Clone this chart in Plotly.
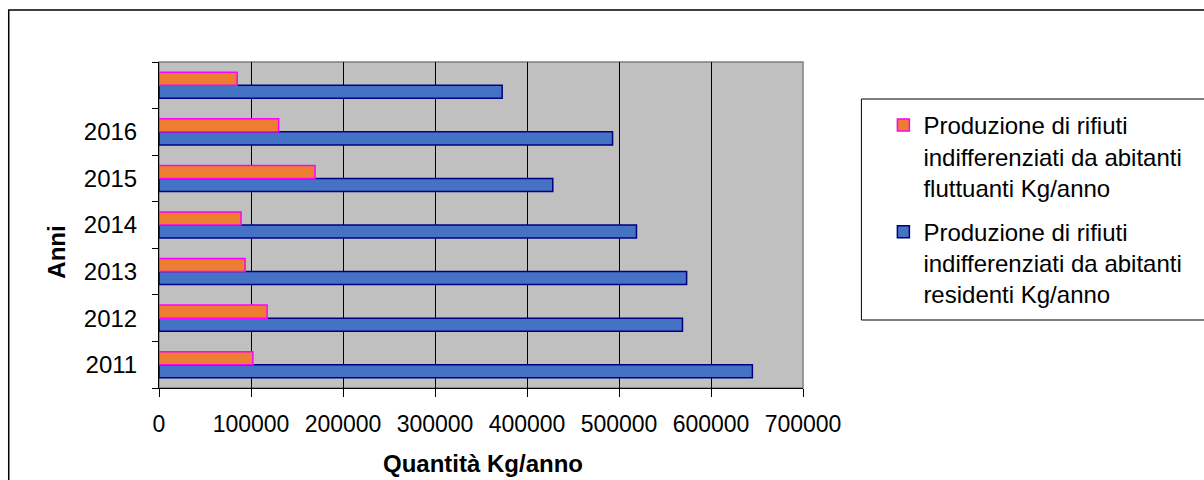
import plotly.graph_objects as go

# Years on the category axis (the last row has no printed label)
anni = ["2011", "2012", "2013", "2014", "2015", "2016", " "]

# Kg/anno of unsorted waste
residenti = [645000, 569000, 573500, 519000, 428000, 493000, 373000]
fluttuanti = [102000, 117500, 93600, 89200, 169600, 130100, 85000]

nome_residenti = "Produzione di rifiuti<br>indifferenziati da abitanti<br>residenti Kg/anno"
nome_fluttuanti = "Produzione di rifiuti<br>indifferenziati da abitanti<br>fluttuanti Kg/anno"

x_ticks = [0, 100000, 200000, 300000, 400000, 500000, 600000, 700000]

FONT = "Liberation Sans, Arial, sans-serif"

fig = go.Figure()
fig.add_trace(go.Bar(
    y=anni, x=residenti, orientation="h", name=nome_residenti,
    marker=dict(color="#4472C4", line=dict(color="#000080", width=1.5)),
    legendgroup="r", legendrank=2,
))
fig.add_trace(go.Bar(
    y=anni, x=fluttuanti, orientation="h", name=nome_fluttuanti,
    marker=dict(color="#ED7D31", line=dict(color="#FF00FF", width=1.5)),
    legendgroup="f", legendrank=1,
))

L, R, T, B = 158.5, 400.5, 62, 92
W, H = 1204, 480
pw, ph = W - L - R, H - T - B

def px(x):
    return (x - L) / pw

def py(y):
    return (H - B - y) / ph

fig.update_layout(
    width=W, height=H,
    margin=dict(l=L, r=R, t=T, b=B, pad=0),
    paper_bgcolor="white",
    plot_bgcolor="#C0C0C0",
    barmode="group",
    bargap=0.44,
    bargroupgap=0,
    font=dict(family=FONT, size=23, color="black"),
    xaxis=dict(
        range=[0, 700000], tickvals=x_ticks,
        ticktext=[str(v) for v in x_ticks],
        showgrid=True, gridcolor="black", gridwidth=1,
        showline=True, linecolor="black", linewidth=1,
        ticks="outside", ticklen=8, tickcolor="black",
        ticklabelstandoff=7,
        zeroline=False,
        tickfont=dict(size=23),
    ),
    yaxis=dict(
        type="category", categoryorder="array", categoryarray=anni,
        showgrid=False,
        showline=True, linecolor="black", linewidth=1,
        ticks="outside", ticklen=6, tickcolor="black",
        tickson="boundaries",
        ticklabelstandoff=16,
        tickfont=dict(size=24),
    ),
    legend=dict(
        x=px(884), y=py(103), xanchor="left", yanchor="top",
        borderwidth=0, bgcolor="rgba(0,0,0,0)",
        traceorder="grouped", tracegroupgap=10,
        valign="top",
        font=dict(size=24),
        itemwidth=30,
    ),
    annotations=[
        dict(text="<b>Anni</b>", textangle=-90, x=px(55), y=py(252),
             xref="paper", yref="paper", showarrow=False,
             xanchor="center", yanchor="middle",
             font=dict(size=24)),
        dict(text="<b>Quantità Kg/anno</b>", x=px(483), y=py(463),
             xref="paper", yref="paper", showarrow=False,
             xanchor="center", yanchor="middle",
             font=dict(size=24)),
    ],
    shapes=[
        # outer chart frame
        dict(type="rect", xref="paper", yref="paper",
             x0=px(8), y0=py(490), x1=px(1215), y1=py(10),
             line=dict(color="black", width=1.5), layer="below"),
        # legend frame
        dict(type="rect", xref="paper", yref="paper",
             x0=px(862), y0=py(320), x1=px(1215), y1=py(99),
             line=dict(color="black", width=1), layer="below"),
        # plot-area border
        dict(type="rect", xref="paper", yref="paper",
             x0=0, y0=0, x1=1, y1=1,
             line=dict(color="#808080", width=1.5), layer="below"),
    ],
)

fig.write_html("out.html")
